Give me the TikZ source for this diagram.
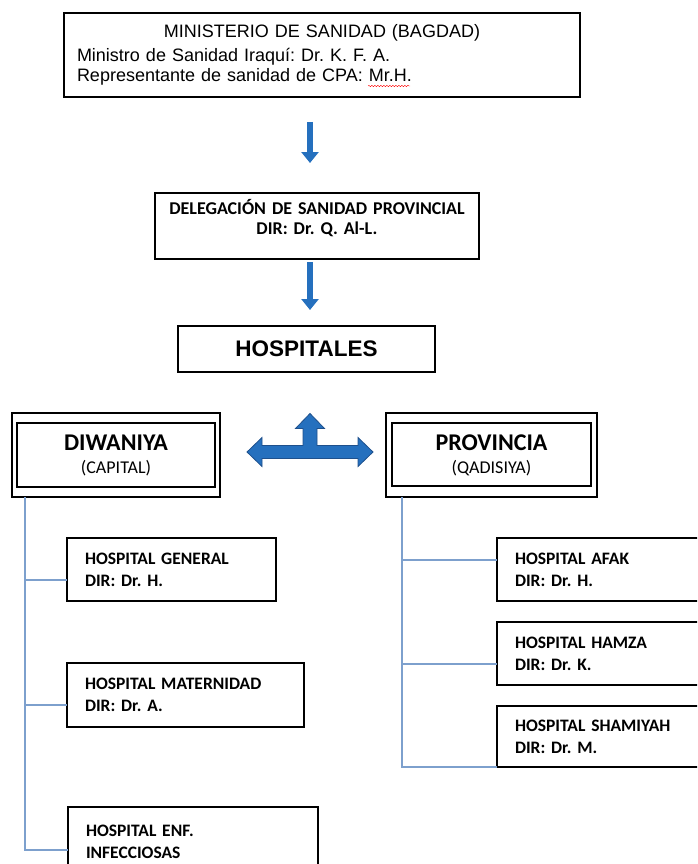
\documentclass[tikz,border=0pt]{standalone}
\usepackage{fontspec}
\setmainfont{Carlito}
\newfontfamily\arialfont{Liberation Sans}
\usetikzlibrary{arrows.meta, positioning, decorations.pathmorphing}
\frenchspacing

\definecolor{arrowblue}{RGB}{37,112,190}
\definecolor{arrowedge}{RGB}{30,80,140}
\definecolor{linkblue}{RGB}{125,160,205}

\begin{document}
\begin{tikzpicture}[
  x=1pt, y=-1pt,
  box/.style={draw, line width=1.6pt, inner sep=0pt, outer sep=0pt, anchor=north west},
  topb/.style={box, align=left, inner xsep=13pt, font=\arialfont\fontsize{18}{19.5}\selectfont},
  delb/.style={box, align=center, font=\fontsize{18}{20}\selectfont\bfseries},
  capb/.style={box, align=center, font=\fontsize{18}{23}\selectfont},
  hb/.style={box, align=left, inner xsep=18pt, font=\fontsize{17.5}{22}\selectfont\bfseries},
  fl/.style={draw=arrowblue, line width=6pt, -{Triangle[width=17pt, length=11pt]}},
  tarrow/.style={fill=arrowblue, draw=arrowedge, line width=0.8pt, line join=miter},
  ln/.style={draw=linkblue, line width=1.3pt}
]
\useasboundingbox (0,0) rectangle (697,864);
\clip (0,0) rectangle (697,864);

% top of the chart
\node[topb, text width=490pt, minimum height=84pt] (mins) at (64,13)
  {\hspace*{\fill}MINISTERIO DE SANIDAD (BAGDAD)\hspace*{\fill}\mbox{}\\[4.5pt]
   Ministro de Sanidad Iraquí: Dr. K. F. A.\\
   Representante de sanidad de CPA: Mr.H.};
\draw[red, decorate, decoration={snake, amplitude=0.7pt, segment length=3pt}] (368,86) -- (410,86);
\node[delb, text width=324pt, minimum height=66pt, text depth=39pt] (dele) at (155,193)
  {DELEGACIÓN DE SANIDAD PROVINCIAL\\ DIR: Dr. Q. Al-L.};
\node[box, minimum width=257pt, minimum height=46pt, font=\arialfont\fontsize{22.5}{22}\selectfont\bfseries] (hosp) at (178,326) {HOSPITALES};

\draw[fl, shorten <=25pt, shorten >=30pt] ([xshift=-12pt]mins.south) -- ([xshift=-12pt]mins.south |- dele.north);
\draw[fl, shorten <=3pt, shorten >=16pt] ([xshift=-7pt]dele.south) -- ([xshift=-7pt]dele.south |- hosp.north);

% capital and province
\node[capb, minimum width=208pt, minimum height=84pt] (diw) at (12,413)
  {{\fontsize{24}{23}\selectfont\bfseries DIWANIYA}\\ (CAPITAL)};
\node[capb, minimum width=211pt, minimum height=84pt] (prov) at (386,413)
  {{\fontsize{24}{23}\selectfont\bfseries PROVINCIA}\\ (QADISIYA)};
\draw[line width=1.3pt] ([shift={(5,-10)}]diw.south west) rectangle ([shift={(-5,10)}]diw.north east);
\draw[line width=1.3pt] ([shift={(6,-11)}]prov.south west) rectangle ([shift={(-6,10)}]prov.north east);

\coordinate (hub) at (310,452);
\begin{scope}[shift={(hub)}]
  \draw[tarrow] (-63,0) -- (-48,-14.5) -- (-48,-6.5) -- (-7,-6.5) -- (-7,-23.5) -- (-14.5,-23.5)
    -- (0,-38.5) -- (14.5,-23.5) -- (7,-23.5) -- (7,-6.5) -- (48,-6.5) -- (48,-14.5) -- (63,0)
    -- (48,14.5) -- (48,6.5) -- (-48,6.5) -- (-48,14.5) -- cycle;
\end{scope}

% hospitals of the capital
\node[hb, text width=173pt, minimum height=63pt] (gen) at (67,538) {HOSPITAL GENERAL\\ DIR: Dr. H.};
\node[hb, text width=201pt, minimum height=64pt] (mat) at (67,663) {HOSPITAL MATERNIDAD\\ DIR: Dr. A.};
\node[hb, text width=214pt, minimum height=70pt] (enf) at (68,807) {HOSPITAL ENF.\\ INFECCIOSAS};

% hospitals of the province
\node[hb, text width=172pt, minimum height=63pt] (afak) at (497,538) {HOSPITAL AFAK\\ DIR: Dr. H.};
\node[hb, text width=172pt, minimum height=63pt] (hamza) at (497,622) {HOSPITAL HAMZA\\ DIR: Dr. K.};
\node[hb, text width=172pt, minimum height=61pt] (sham) at (497,706) {HOSPITAL SHAMIYAH\\ DIR: Dr. M.};

\coordinate (ltrunk) at ([xshift=13pt]diw.south west);
\coordinate (rtrunk) at ([xshift=16pt]prov.south west);
\draw[ln] (ltrunk) |- ([yshift=-10.5pt]gen.west);
\draw[ln] (ltrunk) |- ([yshift=-10pt]mat.west);
\draw[ln] (ltrunk) |- ([yshift=-43pt]enf.north west);
\draw[ln] (rtrunk) |- ([yshift=9.5pt]afak.west);
\draw[ln] (rtrunk) |- ([yshift=-10.5pt]hamza.west);
\draw[ln] (rtrunk) |- (sham.south west);
\end{tikzpicture}
\end{document}
